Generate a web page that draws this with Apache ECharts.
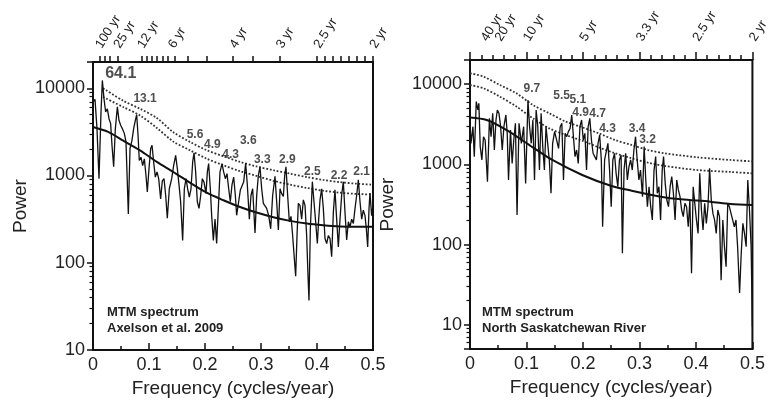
<!DOCTYPE html>
<html><head><meta charset="utf-8">
<script src="https://cdn.jsdelivr.net/npm/echarts@6/dist/echarts.min.js"></script>
<style>html,body{margin:0;padding:0;background:#fff}#c{width:771px;height:407px}</style>
</head><body><div id="c"></div>
<script>
// ---------- Left panel: Axelson et al. 2009 ----------
var leftFreq = [0,0.0036,0.0071,0.0107,0.0143,0.0167,0.0196,0.0226,0.0256,0.0286,
0.0315,0.0339,0.0369,0.0399,0.0435,0.0464,0.0494,0.0524,0.056,0.0589,
0.0631,0.0661,0.0696,0.0726,0.0756,0.078,0.0804,0.0827,0.0857,0.0887,
0.0917,0.0946,0.097,0.1,0.103,0.1054,0.1083,0.1113,0.1143,0.1173,
0.1208,0.1238,0.1268,0.1298,0.1327,0.1363,0.1405,0.144,0.1476,0.1506,
0.1536,0.1565,0.1601,0.1631,0.1661,0.169,0.172,0.175,0.178,0.1804,
0.1833,0.1863,0.1893,0.1923,0.1952,0.1982,0.2018,0.2042,0.2065,0.2095,
0.2119,0.2149,0.2179,0.2208,0.2238,0.2268,0.2304,0.2333,0.2363,0.2393,
0.2423,0.2452,0.2482,0.2512,0.2542,0.2565,0.2601,0.2631,0.2661,0.269,
0.2726,0.2756,0.2792,0.2821,0.2851,0.2893,0.2923,0.2952,0.2982,0.3012,
0.3042,0.3071,0.3101,0.3137,0.3173,0.3208,0.325,0.328,0.331,0.334,
0.3369,0.3399,0.3423,0.3446,0.3476,0.3506,0.3536,0.3565,0.3595,0.3619,
0.3643,0.3667,0.3696,0.3726,0.3756,0.3786,0.3815,0.3839,0.3857,0.3881,
0.3917,0.3946,0.3976,0.4006,0.403,0.4054,0.4083,0.4113,0.4143,0.4173,
0.4202,0.4232,0.4262,0.4292,0.4321,0.4351,0.4381,0.4411,0.444,0.447,
0.45,0.453,0.456,0.4589,0.4619,0.4649,0.4679,0.4708,0.4738,0.4768,
0.4798,0.4827,0.4857,0.4881,0.4905,0.4929,0.4946,0.4976,0.5];
var leftPower = [6950,7450,3450,920,5350,12300,7600,5350,5820,4480,
3930,2220,1260,3450,6110,4290,3760,3450,3020,2430,
363,2040,2530,3450,4290,5000,2890,1490,1620,1300,
1550,1000,650,1200,2040,2220,1430,960,1100,920,
540,870,920,590,325,705,920,1300,1700,1200,
780,500,180,705,920,705,565,705,1430,1820,
1100,500,420,590,920,840,620,1100,1370,705,
347,180,316,166,420,1100,1370,1100,920,1050,
705,500,780,960,590,350,500,680,680,840,
1380,780,316,590,705,220,590,1000,1260,705,
480,500,420,347,245,590,980,500,237,705,
620,575,1000,1260,590,295,340,205,112,70,
205,480,455,316,525,455,205,72,37,245,
850,500,295,166,316,525,705,420,190,166,
205,190,117,380,685,316,152,316,590,850,
380,182,295,257,316,282,420,590,890,500,
316,400,347,245,152,420,630,347,455];
var leftRnFreq = [0,0.027,0.054,0.084,0.114,0.143,0.173,0.203,0.233,0.2625,0.292,0.322,0.352,0.382,0.411,0.441,0.471,0.5];
var leftRnPower = [3590,3160,2510,1940,1430,1100,830,635,520,435,376,333,302,281,269,261,259,259];
var leftCFreq = [0.018,0.054,0.084,0.114,0.143,0.173,0.203,0.233,0.2625,0.292,0.322,0.352,0.382,0.411,0.441,0.471,0.5];
var leftC1Power = [10000,7200,5820,4560,3150,2430,1950,1660,1430,1270,1150,1050,960,890,840,805,785];
var leftC2Power = [7930,6090,4880,3510,2460,1950,1560,1310,1120,990,870,785,720,670,635,615,605];
var leftPeakText = ['64.1','13.1','5.6','4.9','3.6','4.3','3.3','2.9','2.5','2.2','2.1'];
var leftPeakFreq = [0.0495,0.093,0.1821,0.2131,0.2773,0.2459,0.3023,0.347,0.3916,0.4393,0.4798];
var leftPeakPower = [14700,7600,2940,2250,2540,1710,1530,1530,1120,1005,1100];
var leftTopTicks = [0.0125,0.021,0.03,0.045,0.0875,0.096,0.105,0.114,0.125,0.134,0.146,0.17,0.204,0.25,0.286,0.333,0.4,0.414,0.429,0.443,0.457,0.471,0.486,0.5];
var leftTopLabelFreq = [0.01,0.043,0.085,0.14,0.25,0.333,0.4,0.5];
var leftTopLabelText = ['100 yr','25 yr','12 yr','6 yr','4 yr','3 yr','2.5 yr','2 yr'];

// ---------- Right panel: North Saskatchewan River ----------
var rightFreq = [0,0.0017,0.0052,0.0076,0.0111,0.014,0.0157,0.0181,0.021,0.0239,
0.0268,0.0309,0.0344,0.0373,0.0402,0.0431,0.046,0.0484,0.0513,0.0542,
0.0571,0.06,0.0635,0.0659,0.0682,0.0717,0.0746,0.0775,0.0804,0.0833,
0.0868,0.0909,0.095,0.0985,0.1026,0.1055,0.1084,0.1113,0.1142,0.1171,
0.12,0.123,0.1259,0.1288,0.1317,0.1346,0.1375,0.1404,0.1434,0.1463,
0.1498,0.1533,0.1568,0.1597,0.1626,0.1655,0.1684,0.1713,0.1742,0.1772,
0.1801,0.183,0.1859,0.1888,0.1917,0.1946,0.1976,0.2005,0.2034,0.2063,
0.2092,0.2121,0.215,0.2179,0.2209,0.2238,0.2267,0.2296,0.2325,0.2348,
0.2383,0.2413,0.2442,0.2471,0.25,0.2529,0.2558,0.2587,0.2617,0.2646,
0.2675,0.2698,0.2727,0.2756,0.2786,0.2815,0.2844,0.2873,0.2902,0.2931,
0.296,0.299,0.3019,0.3054,0.3083,0.3112,0.3141,0.317,0.3199,0.3228,
0.3258,0.3287,0.3316,0.3345,0.3374,0.3403,0.3427,0.3456,0.3485,0.3514,
0.3543,0.3572,0.3601,0.3631,0.366,0.3689,0.3718,0.3747,0.3776,0.3805,
0.3834,0.3864,0.3893,0.3922,0.3951,0.398,0.4009,0.4038,0.4068,0.4097,
0.4126,0.4155,0.4184,0.4213,0.4242,0.4272,0.4301,0.433,0.4359,0.4388,
0.4417,0.4446,0.4476,0.4505,0.4534,0.4563,0.4592,0.4621,0.465,0.468,
0.4709,0.4738,0.4773,0.4802,0.4831,0.486,0.4889,0.4918,0.4948,0.4977,0.5];
var rightPower = [3250,1830,2950,1250,6055,4765,5770,1665,1135,2215,
2015,610,3750,2215,4330,1510,3575,4765,4330,2950,
1510,2950,4130,2440,640,2685,1030,2015,3250,234,
3250,1830,2950,580,6345,2950,1830,3575,640,4765,
2950,850,4330,1665,850,2950,1830,1135,436,1830,
2560,2015,1585,2950,3250,640,2440,2215,2560,2810,
4130,4330,1250,1510,1030,2950,3575,2015,2440,850,
2950,3750,2015,1375,1250,1135,1830,2325,1135,167,
1135,1135,1830,850,297,1135,1375,773,527,1135,
1310,78,850,1375,640,940,1135,850,1510,2215,
1135,640,850,396,1665,640,297,527,297,203,
850,1250,436,527,203,850,1250,580,360,297,
527,703,436,203,640,480,396,270,223,327,
297,167,360,44,527,327,203,138,773,270,
152,327,184,297,895,360,245,203,138,270,
223,36,203,94,53,327,297,245,203,167,
203,94,25,78,184,138,94,640,270,94,9.5];
var rightRnFreq = [0,0.0297,0.0664,0.1113,0.1457,0.1987,0.2506,0.2861,0.338,0.3735,0.4254,0.461,0.5];
var rightRnPower = [3850,3570,2630,1630,1135,738,538,470,396,367,343,321,312];
var rightCFreq = [0,0.0239,0.053,0.0822,0.1113,0.1404,0.1696,0.1987,0.2279,0.257,0.2861,0.3153,0.3444,0.4027,0.461,0.5];
var rightC1Power = [13650,12400,9750,7690,5500,4330,3410,2900,2440,2010,1745,1510,1375,1225,1135,1090];
var rightC2Power = [9750,8870,6990,5250,3750,2810,2320,1975,1630,1375,1190,1050,955,850,805,773];
var rightPeakText = ['9.7','5.5','5.1','4.9','4.7','4.3','3.4','3.2'];
var rightPeakFreq = [0.1096,0.1621,0.1911,0.1958,0.2261,0.2435,0.296,0.3142];
var rightPeakPower = [8870,7180,6340,4460,4330,2810,2810,2010];
var rightTopLabelFreq = [0.025,0.05,0.1,0.2,0.3,0.4,0.5];
var rightTopLabelText = ['40 yr','20 yr','10 yr','5 yr','3.3 yr','2.5 yr','2 yr'];

// ---------- build ----------
var FONT = '"Liberation Sans", Arial, Helvetica, sans-serif';
var INK = '#111';
var TXT = '#222';
function zip(xs, ys){ return xs.map(function(x,i){ return [x, ys[i]]; }); }
function lookup(fs, ts){ return function(v){ for (var i=0;i<fs.length;i++){ if (Math.abs(fs[i]-v)<1e-6) return ts[i]; } return ''; }; }
function pow10Label(v){ var l = Math.log10(v); return Math.abs(l-Math.round(l))<1e-6 ? String(Math.round(v)) : ''; }

function bottomAxis(grid){
  return {gridIndex:grid, type:'value', position:'bottom', min:0, max:0.5, interval:0.1,
    axisLine:{show:true, onZero:false, lineStyle:{color:INK, width:2}},
    axisTick:{show:true, inside:true, length:7, lineStyle:{color:INK, width:1.5}},
    minorTick:{show:true, splitNumber:2, length:4, lineStyle:{color:INK, width:1.5}},
    splitLine:{show:false}, minorSplitLine:{show:false},
    axisLabel:{fontSize:18, color:TXT, fontFamily:FONT, margin:6},
    name:'Frequency (cycles/year)', nameLocation:'middle', nameGap:29,
    nameTextStyle:{fontSize:19, color:TXT, fontFamily:FONT}};
}
function topAxis(grid, extra){
  var a = {gridIndex:grid, type:'value', position:'top', min:0, max:0.5,
    axisLine:{show:true, onZero:false, lineStyle:{color:INK, width:2}},
    axisTick:{show:true, inside:false, length:6, lineStyle:{color:INK, width:1.5}},
    splitLine:{show:false}, minorSplitLine:{show:false},
    axisLabel:{fontSize:13, color:TXT, fontFamily:FONT, rotate:-58, margin:15, interval:0,
      hideOverlap:false, showMinLabel:true, showMaxLabel:true}};
  for (var k in extra){ if (typeof extra[k]==='object' && a[k]) Object.assign(a[k], extra[k]); else a[k]=extra[k]; }
  return a;
}
function logAxis(grid, mn, mx, gap){
  return {gridIndex:grid, type:'log', logBase:10, min:mn, max:mx, position:'left',
    axisLine:{show:true, onZero:false, lineStyle:{color:INK, width:2}},
    axisTick:{show:true, inside:false, length:6, lineStyle:{color:INK, width:1.5}},
    minorTick:{show:true, splitNumber:9, length:3.5, lineStyle:{color:INK, width:1.2}},
    splitLine:{show:false}, minorSplitLine:{show:false},
    axisLabel:{fontSize:18, color:TXT, fontFamily:FONT, margin:8, formatter:pow10Label},
    name:'Power', nameLocation:'middle', nameGap:gap,
    nameTextStyle:{fontSize:19, color:TXT, fontFamily:FONT}};
}
function lineSeries(xi, yi, data, style, smooth, z){
  return {type:'line', xAxisIndex:xi, yAxisIndex:yi, data:data, showSymbol:false, symbol:'none',
    smooth:smooth, lineStyle:style, z:z, silent:true};
}
function peakSeries(xi, yi, fs, ps, ts, bigFirst){
  var data = fs.map(function(f,i){
    var d = {value:[f, ps[i]], name:ts[i]};
    if (bigFirst && i===0) d.label = {fontSize:16};
    return d;
  });
  return {type:'scatter', xAxisIndex:xi, yAxisIndex:yi, data:data, symbolSize:0, z:5, silent:true,
    label:{show:true, position:'inside', formatter:'{b}', fontSize:12, fontWeight:'bold', color:TXT, fontFamily:FONT}};
}

var spectrumStyle = {color:INK, width:1.3};
var rnStyle = {color:INK, width:2};
var cStyle = {color:'#333', width:1.8, type:'dotted'};

// right-top labels are split over two overlaid axes so that close neighbours are not dropped
var rtLabelsA = rightTopLabelFreq.filter(function(f,i){ return i % 2 === 0; });
var rtLabelsB = rightTopLabelFreq.filter(function(f,i){ return i % 2 === 1; });
var rtFmt = lookup(rightTopLabelFreq, rightTopLabelText);

var option = {
  animation:false,
  backgroundColor:'#fff',
  grid:[
    {left:93, top:62, width:280, height:288, show:true, borderColor:INK, borderWidth:2, backgroundColor:'transparent'},
    {left:470, top:60, width:286, height:289, show:true, borderColor:INK, borderWidth:2, backgroundColor:'transparent'}
  ],
  xAxis:[
    bottomAxis(0),
    topAxis(0, {axisTick:{customValues:leftTopTicks}, axisLabel:{customValues:leftTopLabelFreq, formatter:lookup(leftTopLabelFreq, leftTopLabelText), margin:15}}),
    bottomAxis(1),
    topAxis(1, {interval:0.1, axisTick:{length:8}, minorTick:{show:true, splitNumber:5, length:5, lineStyle:{color:INK, width:1.5}},
      axisLabel:{customValues:rtLabelsA, formatter:rtFmt, margin:20}}),
    topAxis(1, {axisLine:{show:false}, axisTick:{show:false},
      axisLabel:{customValues:rtLabelsB, formatter:rtFmt, margin:20}})
  ],
  yAxis:[ logAxis(0, 10, 20000, 63), logAxis(1, 5, 20000, 73) ],
  series:[
    lineSeries(0,0, zip(leftCFreq, leftC1Power), cStyle, 0.3, 2),
    lineSeries(0,0, zip(leftCFreq, leftC2Power), cStyle, 0.3, 2),
    lineSeries(0,0, zip(leftRnFreq, leftRnPower), rnStyle, 0.3, 3),
    lineSeries(0,0, zip(leftFreq, leftPower), spectrumStyle, false, 4),
    peakSeries(0,0, leftPeakFreq, leftPeakPower, leftPeakText, true),
    lineSeries(2,1, zip(rightCFreq, rightC1Power), cStyle, 0.3, 2),
    lineSeries(2,1, zip(rightCFreq, rightC2Power), cStyle, 0.3, 2),
    lineSeries(2,1, zip(rightRnFreq, rightRnPower), rnStyle, 0.3, 3),
    lineSeries(2,1, zip(rightFreq, rightPower), spectrumStyle, false, 4),
    peakSeries(2,1, rightPeakFreq, rightPeakPower, rightPeakText, false)
  ],
  graphic:[
    {type:'text', left:107, top:304, z:10, style:{text:'MTM spectrum\nAxelson et al. 2009', font:'bold 13px '+FONT, fill:TXT, lineHeight:16}},
    {type:'text', left:482, top:304, z:10, style:{text:'MTM spectrum\nNorth Saskatchewan River', font:'bold 13px '+FONT, fill:TXT, lineHeight:16}}
  ]
};
var chart = echarts.init(document.getElementById('c'), null, {renderer:'canvas'});
chart.setOption(option);
</script></body></html>
